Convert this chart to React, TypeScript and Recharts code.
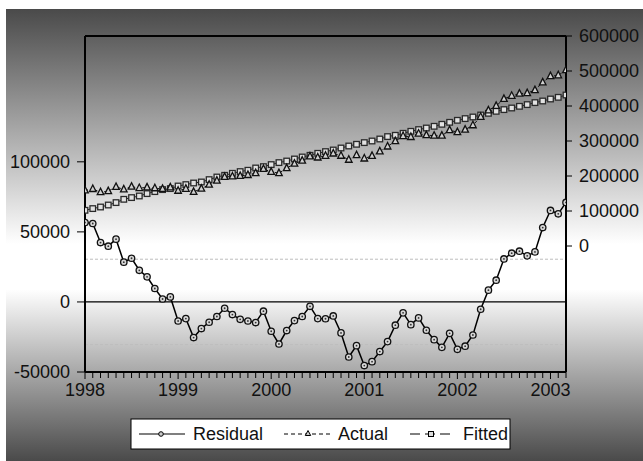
import React from 'react';
import { LineChart, Line, XAxis, YAxis, ReferenceLine } from 'recharts';

const startYear = 1998;
const yearLabels = ['1998', '1999', '2000', '2001', '2002', '2003'];

const residual = [
  56700, 56000, 42400, 39800, 44800, 28400, 31200, 22600, 17900, 9600, 2100, 3600,
  -13600, -11900, -25400, -19000, -14500, -10400, -4500, -9000, -12400, -13600, -14700, -6600,
  -20900, -30000, -20400, -13300, -10400, -3100, -11900, -12000, -10000, -22100, -39300, -31200,
  -45400, -42600, -35400, -28300, -16600, -7800, -16200, -11400, -20200, -26900, -32400, -22400,
  -33800, -31600, -23600, -5200, 8400, 15500, 30700, 34800, 36200, 32900, 35700, 53100,
  65300, 62900, 71000,
];

const actual = [
  158700, 162900, 153800, 156900, 168800, 161800, 169500, 165500, 167600, 165000, 163200, 167600,
  157800, 163500, 154600, 163900, 175200, 186700, 197500, 198700, 200200, 202800, 208200, 220200,
  211700, 208300, 222400, 235300, 243900, 256000, 252900, 257700, 264300, 257900, 246400, 259400,
  250000, 257400, 270300, 284300, 299700, 314200, 311500, 321200, 316900, 315100, 315300, 331000,
  325300, 332400, 345000, 369100, 387500, 400300, 420400, 429100, 435300, 436900, 445400, 467400,
  485300, 487700, 502400,
];

const fitted = [
  102000, 106900, 111400, 117100, 124000, 133400, 138300, 142900, 149700, 155400, 161100, 164000,
  171400, 175400, 180000, 182900, 189700, 197100, 202000, 207700, 212600, 216400, 222900, 226800,
  232600, 238300, 242800, 248600, 254300, 259100, 264800, 269700, 274300, 280000, 285700, 290600,
  295400, 300000, 305700, 312600, 316300, 322000, 327700, 332600, 337100, 342000, 347700, 353400,
  359100, 364000, 368600, 374300, 379100, 384800, 389700, 394300, 399100, 404000, 409700, 414300,
  420000, 424800, 431400,
];

const leftTicks = [-50000, 0, 50000, 100000];
const rightTicks = [0, 100000, 200000, 300000, 400000, 500000, 600000];
const seBand = 30500;

const data = residual.map((r, i) => ({
  idx: i,
  period: `${startYear + Math.floor(i / 12)}M${String((i % 12) + 1).padStart(2, '0')}`,
  residual: r,
  actual: actual[i],
  fitted: fitted[i],
}));
const monthTicks = data.map((d) => d.idx);

const FONT = '"Liberation Sans", Arial, sans-serif';

const MonthTick = (props: any) => {
  const { x, y, payload } = props;
  const v = payload.value as number;
  const isYear = v % 12 === 0;
  const label = isYear ? yearLabels[v / 12] : null;
  return (
    <g>
      <line x1={x} x2={x} y1={y} y2={y + (isYear ? 7 : 6)} stroke="#000" strokeWidth={1} />
      {label && (
        <text x={x} y={y + 24} textAnchor="middle" fontSize={18} fontFamily={FONT} fill="#111">
          {label}
        </text>
      )}
    </g>
  );
};

const CircleDot = (props: any) => {
  const { cx, cy, index } = props;
  return (
    <g key={`c${index}`}>
      <circle cx={cx} cy={cy} r={3.2} fill="#d8d8d8" stroke="#111" strokeWidth={1.3} />
      <circle cx={cx} cy={cy} r={0.9} fill="#333" />
    </g>
  );
};
const TriDot = (props: any) => {
  const { cx, cy, index } = props;
  return (
    <polygon
      key={`t${index}`}
      points={`${cx},${cy - 4} ${cx - 3.3},${cy + 2.5} ${cx + 3.3},${cy + 2.5}`}
      fill="#d0d0d0"
      stroke="#111"
      strokeWidth={1.3}
    />
  );
};
const SqDot = (props: any) => {
  const { cx, cy, index } = props;
  return (
    <rect key={`s${index}`} x={cx - 2.8} y={cy - 2.8} width={5.6} height={5.6} fill="#e2e2e2" stroke="#2a2a2a" strokeWidth={1.3} />
  );
};

const Legend = () => (
  <svg width={643} height={461} style={{ position: 'absolute', left: 0, top: 0, pointerEvents: 'none' }}>
    <rect x={131} y={419} width={379} height={30} fill="#fff" stroke="#000" strokeWidth={1} />
    <line x1={139} x2={185} y1={434} y2={434} stroke="#000" strokeWidth={1.2} />
    <circle cx={161} cy={434} r={2.3} fill="#ccc" stroke="#000" strokeWidth={1} />
    <text x={193} y={440} fontSize={18} fontFamily={FONT} fill="#111">Residual</text>
    <line x1={284} x2={332} y1={434} y2={434} stroke="#000" strokeWidth={1} strokeDasharray="4 3" />
    <polygon points="308,430.5 305.3,435.5 310.7,435.5" fill="#ccc" stroke="#000" strokeWidth={1} />
    <text x={338} y={440} fontSize={18} fontFamily={FONT} fill="#111">Actual</text>
    <line x1={410} x2={453} y1={434} y2={434} stroke="#000" strokeWidth={1} strokeDasharray="10 5" />
    <rect x={428.5} y={431.5} width={5} height={5} fill="#ddd" stroke="#000" strokeWidth={1} />
    <text x={463} y={440} fontSize={18} fontFamily={FONT} fill="#111">Fitted</text>
  </svg>
);

export default function App() {
  return (
    <div style={{ position: 'absolute', left: 0, top: 0, width: 643, height: 461, background: '#fff', overflow: 'hidden' }}>
      <div
        style={{
          position: 'absolute',
          left: 6,
          top: 9,
          width: 637,
          height: 452,
          background:
            'linear-gradient(to bottom, #4a4a4a 0%, #ffffff 52%, #ffffff 62%, #4a4a4a 100%)',
        }}
      />
      <div style={{ position: 'absolute', left: 0, top: 0 }}>
        <LineChart width={643} height={461} data={data} margin={{ top: 36, right: 0, bottom: 59, left: 0 }}>
          <XAxis
            dataKey="idx"
            type="number"
            domain={[0, 62]}
            ticks={monthTicks}
            interval={0}
            tick={<MonthTick />}
            tickLine={false}
            tickSize={0}
            tickMargin={0}
            height={30}
            axisLine={{ stroke: '#000', strokeWidth: 2 }}
            allowDataOverflow
          />
          <YAxis
            yAxisId="left"
            orientation="left"
            width={85}
            domain={[-50000, 189800]}
            ticks={leftTicks}
            interval={0}
            allowDataOverflow
            tickSize={8}
            tickMargin={7}
            tickFormatter={(v: number) => String(v)}
            tick={{ fontSize: 18, fontFamily: FONT, fill: '#111' }}
            tickLine={{ stroke: '#000', strokeWidth: 1 }}
            axisLine={{ stroke: '#000', strokeWidth: 2 }}
          />
          <YAxis
            yAxisId="right"
            orientation="right"
            width={77}
            domain={[-360000, 600000]}
            ticks={rightTicks}
            interval={0}
            allowDataOverflow
            tickSize={6}
            tickMargin={7}
            tickFormatter={(v: number) => String(v)}
            tick={{ fontSize: 18, fontFamily: FONT, fill: '#111', textAnchor: 'start' }}
            tickLine={{ stroke: '#000', strokeWidth: 1 }}
            axisLine={{ stroke: '#000', strokeWidth: 2 }}
          />
          <ReferenceLine yAxisId="left" y={189800} stroke="#000" strokeWidth={2} />
          <ReferenceLine yAxisId="left" y={seBand} stroke="#bdbdbd" strokeWidth={1} strokeDasharray="3 2" />
          <ReferenceLine yAxisId="left" y={-seBand} stroke="#bdbdbd" strokeWidth={1} strokeDasharray="3 2" />
          <ReferenceLine yAxisId="left" y={0} stroke="#000" strokeWidth={1.3} />
          <Line
            yAxisId="right"
            type="linear"
            dataKey="fitted"
            stroke="#222"
            strokeWidth={1}
            strokeDasharray="6 2"
            dot={<SqDot />}
            isAnimationActive={false}
          />
          <Line
            yAxisId="right"
            type="linear"
            dataKey="actual"
            stroke="#111"
            strokeWidth={1}
            strokeDasharray="3 2"
            dot={<TriDot />}
            isAnimationActive={false}
          />
          <Line
            yAxisId="left"
            type="linear"
            dataKey="residual"
            stroke="#000"
            strokeWidth={1.5}
            dot={<CircleDot />}
            isAnimationActive={false}
          />
        </LineChart>
      </div>
      <Legend />
    </div>
  );
}
